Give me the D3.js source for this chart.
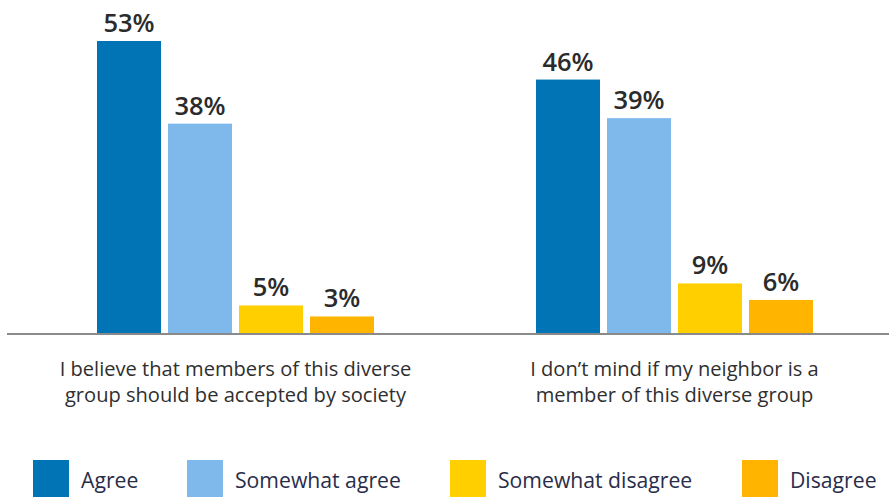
<!DOCTYPE html>
<html><head><meta charset="utf-8">
<script src="https://cdn.jsdelivr.net/npm/d3@7"></script>
<style>body{margin:0;background:#fff}svg{display:block}</style>
</head><body>
<svg id="c" width="889" height="497"></svg>
<script>
const categories = [
  ["I believe that members of this diverse", "group should be accepted by society"],
  ["I don\u2019t mind if my neighbor is a", "member of this diverse group"]
];
const seriesNames = ["Agree", "Somewhat agree", "Somewhat disagree", "Disagree"];
const agree = [53, 46];
const somewhatAgree = [38, 39];
const somewhatDisagree = [5, 9];
const disagree = [3, 6];
const colors = ["#0074b5", "#7fb9ec", "#ffcf00", "#ffb400"];

const values = [agree, somewhatAgree, somewhatDisagree, disagree];
const svg = d3.select("#c");
const font = "'Open Sans', 'Noto Sans', sans-serif";
const base = 333;

const y = d3.scaleLinear().domain([0, 53]).range([base, 41]);
const barW = 64, step = 71;
const groupCenters = [235.5, 674.5];

const data = [];
categories.forEach((c, gi) => {
  seriesNames.forEach((s, si) => {
    data.push({gi, si, v: values[si][gi]});
  });
});

const xPos = d => groupCenters[d.gi] - (4 * step - (step - barW)) / 2 + d.si * step;

svg.selectAll("rect.bar").data(data).join("rect")
  .attr("class", "bar")
  .attr("x", xPos)
  .attr("y", d => y(d.v))
  .attr("width", barW)
  .attr("height", d => base - y(d.v))
  .attr("fill", d => colors[d.si]);

svg.selectAll("text.val").data(data).join("text")
  .attr("class", "val")
  .attr("x", d => xPos(d) + barW / 2)
  .attr("y", d => y(d.v) - 9)
  .attr("text-anchor", "middle")
  .attr("font-family", font)
  .attr("font-weight", 600)
  .attr("font-size", 25.5)
  .attr("fill", "#2b2b2b")
  .text(d => d.v + "%");

svg.append("line")
  .attr("x1", 7).attr("x2", 889)
  .attr("y1", base + 1).attr("y2", base + 1)
  .attr("stroke", "#8a8a8a").attr("stroke-width", 2);

categories.forEach((lines, gi) => {
  const t = svg.append("text")
    .attr("text-anchor", "middle")
    .attr("font-family", font)
    .attr("font-size", 20.1)
    .attr("fill", "#2f2f2f");
  lines.forEach((l, li) => {
    t.append("tspan").attr("x", groupCenters[gi]).attr("y", 376 + li * 26).text(l);
  });
});

const legendX = [33, 187, 450, 742];
seriesNames.forEach((s, i) => {
  svg.append("rect").attr("x", legendX[i]).attr("y", 460).attr("width", 36).attr("height", 37).attr("fill", colors[i]);
  svg.append("text").attr("x", legendX[i] + 48).attr("y", 488)
    .attr("font-family", font).attr("font-size", 21.2).attr("fill", "#2a2d4a").text(s);
});
</script>
</body></html>
